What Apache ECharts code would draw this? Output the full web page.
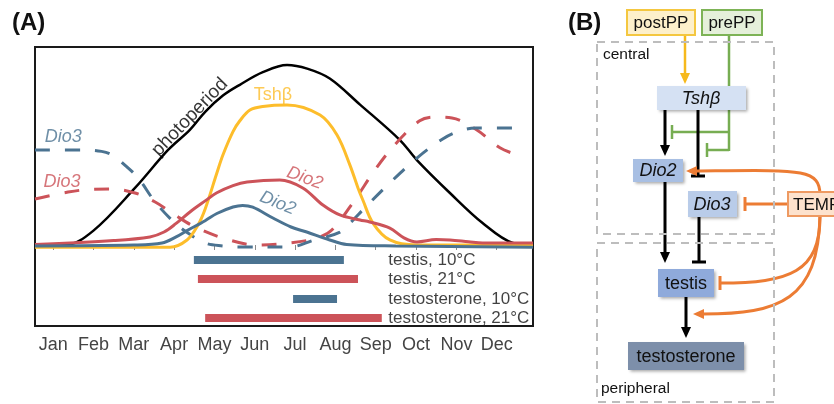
<!DOCTYPE html>
<html>
<head>
<meta charset="utf-8">
<script src="https://cdn.jsdelivr.net/npm/echarts@6/dist/echarts.min.js"></script>
<style>
html, body { margin: 0; padding: 0; background: #fff; }
#chart { width: 834px; height: 404px; }
</style>
</head>
<body>
<div id="chart"></div>
<script>
// months, Jan = 0
const months = ['Jan', 'Feb', 'Mar', 'Apr', 'May', 'Jun', 'Jul', 'Aug', 'Sep', 'Oct', 'Nov', 'Dec'];
const monthTicks = [0, 1, 2, 3, 4, 5, 6, 7, 8, 9, 10, 11];

// relative levels
const photoperiod = [[-0.45, 0], [0.3, 0], [1.0, 0.08], [2.03, 0.317], [2.85, 0.528], [3.39, 0.64], [3.77, 0.74],
  [4.21, 0.83], [4.63, 0.89], [5.2, 0.96], [5.8, 1.0], [6.3, 0.98], [6.86, 0.925], [7.61, 0.78], [8.6, 0.583],
  [9.02, 0.472], [9.84, 0.289], [10.65, 0.122], [11.4, 0.011], [11.9, 0]];
const tshb = [[-0.45, -0.012], [2.9, -0.012], [3.32, 0.028], [3.59, 0.11], [3.77, 0.2], [4.06, 0.4], [4.21, 0.5],
  [4.46, 0.63], [4.63, 0.69], [4.88, 0.75], [5.2, 0.77], [5.8, 0.778], [6.62, 0.722], [7.04, 0.611], [7.36, 0.444],
  [7.56, 0.317], [7.68, 0.25], [7.93, 0.122], [8.35, 0.028], [9.02, 0], [11.9, 0]];
const dio2Warm = [[-0.45, 0.003], [1.5, 0.025], [2.4, 0.045], [2.75, 0.072], [3.05, 0.12], [3.4, 0.185],
  [3.77, 0.245], [4.06, 0.29], [4.46, 0.33], [4.81, 0.35], [5.62, 0.361], [6.19, 0.317], [6.69, 0.222],
  [7.11, 0.167], [7.61, 0.139], [7.85, 0.128], [8.35, 0.094], [8.7, 0.04], [9.02, 0.017], [9.5, 0.03],
  [9.84, 0.028], [10.3, 0.018], [10.65, 0.011], [11.9, 0.011]];
const dio2Cold = [[-0.45, -0.005], [2.0, 0.0], [2.7, 0.011], [3.05, 0.045], [3.32, 0.08], [3.77, 0.135],
  [4.06, 0.175], [4.46, 0.211], [4.7, 0.22], [4.95, 0.21], [5.45, 0.15], [5.9, 0.1], [6.29, 0.072], [6.86, 0.028],
  [7.28, 0.003], [8.5, -0.005], [11.9, -0.012]];
const dio3Cold = [[-0.45, 0.528], [0.79, 0.528], [1.2, 0.52], [1.46, 0.5], [1.8, 0.44], [2.11, 0.372], [2.53, 0.239],
  [3.02, 0.122], [3.34, 0.067], [3.77, 0.011], [4.2, -0.005], [4.63, -0.011], [5.87, -0.011], [6.44, 0.025],
  [7.1, 0.07], [7.4, 0.13], [7.7, 0.2], [8.35, 0.345], [9.02, 0.483], [9.66, 0.589], [10.1, 0.635], [10.48, 0.65],
  [11.52, 0.65]];
const dio3Warm = [[-0.45, 0.256], [0.37, 0.294], [1.0, 0.31], [1.46, 0.311], [2.03, 0.289], [2.53, 0.239],
  [3.02, 0.167], [3.52, 0.1], [4.21, 0.039], [5.05, 0.0], [5.87, 0.011], [6.54, 0.039], [6.91, 0.083], [7.48, 0.25],
  [7.98, 0.417], [8.47, 0.556], [9.09, 0.69], [9.46, 0.711], [9.89, 0.706], [10.5, 0.64], [11.08, 0.54],
  [11.52, 0.5]];

// activity windows (month units)
const windowLabels = ['testis, 10°C', 'testis, 21°C', 'testosterone, 10°C', 'testosterone, 21°C'];
const windowStart = [3.49, 3.59, 5.95, 3.77];
const windowEnd = [7.21, 7.56, 7.04, 8.15];
const windowRow = [-0.083, -0.189, -0.3, -0.406];
const windowTemp = [10, 21, 10, 21];
const windowLabelX = 8.3;

const BLACK = '#000';
const YELLOW = '#fdbd2b';
const RED = '#cc5359';
const BLUE = '#4b7391';
const ORANGE = '#ec7c34';
const GREEN = '#77ad52';
const FONT = '"Liberation Sans", Arial, sans-serif';

const lineSeries = (name, data, color, dashed, width) => ({
  name: name,
  type: 'line',
  data: data,
  smooth: 0.35,
  symbol: 'none',
  silent: true,
  lineStyle: { color: color, width: width || 3, type: dashed ? [15, 15] : 'solid', cap: 'butt' }
});

const windowSeries = windowLabels.map((label, i) => ({
  name: label,
  type: 'line',
  symbol: 'none',
  silent: true,
  data: [[windowStart[i], windowRow[i]], [windowEnd[i], windowRow[i]]],
  lineStyle: { color: windowTemp[i] === 10 ? BLUE : RED, width: 8, cap: 'butt' }
}));

// curve names written next to the lines
const curveNotes = [
  { value: [3.39, 0.71], label: { formatter: 'photoperiod', color: BLACK, rotate: 46, fontSize: 19 } },
  { value: [5.45, 0.833], label: { formatter: 'Tshβ', color: YELLOW, fontSize: 18 } },
  { value: [6.24, 0.372], label: { formatter: 'Dio2', color: RED, rotate: -20, fontStyle: 'italic', fontSize: 18 } },
  { value: [5.57, 0.233], label: { formatter: 'Dio2', color: BLUE, rotate: -22, fontStyle: 'italic', fontSize: 18 } },
  { value: [0.25, 0.6], label: { formatter: 'Dio3', color: BLUE, fontStyle: 'italic', fontSize: 18 } },
  { value: [0.22, 0.35], label: { formatter: 'Dio3', color: RED, fontStyle: 'italic', fontSize: 18 } }
];

// ---- panel B: the diagram, drawn with graphic elements ----
const B = [];
const rect = (x, y, w, h, fill, stroke, dash, shadow) => B.push({
  type: 'rect', shape: { x: x, y: y, width: w, height: h }, z: 10,
  style: {
    fill: fill, stroke: stroke || null, lineWidth: 2, lineDash: dash || null,
    shadowBlur: shadow ? 3 : 0, shadowOffsetX: shadow ? 1.5 : 0, shadowOffsetY: shadow ? 1.5 : 0,
    shadowColor: 'rgba(0,0,0,0.35)'
  }
});
const text = (x, y, s, size, opts) => B.push({
  type: 'text', z: 20,
  style: Object.assign({
    text: s, x: x, y: y, fill: '#111', textAlign: 'center', textVerticalAlign: 'middle',
    font: size + 'px ' + FONT
  }, opts || {})
});
const seg = (x1, y1, x2, y2, color, w) => B.push({
  type: 'line', z: 5, shape: { x1: x1, y1: y1, x2: x2, y2: y2 },
  style: { stroke: color, lineWidth: w || 3 }
});
const curve = (x1, y1, c1x, c1y, c2x, c2y, x2, y2, color) => B.push({
  type: 'bezierCurve', z: 5,
  shape: { x1: x1, y1: y1, cpx1: c1x, cpy1: c1y, cpx2: c2x, cpy2: c2y, x2: x2, y2: y2 },
  style: { stroke: color, lineWidth: 3, fill: 'none' }
});
const headDown = (x, y, color) => B.push({
  type: 'polygon', z: 6, shape: { points: [[x - 5, y - 11], [x + 5, y - 11], [x, y]] }, style: { fill: color }
});
const headLeft = (x, y, color) => B.push({
  type: 'polygon', z: 6, shape: { points: [[x + 11, y - 5], [x + 11, y + 5], [x, y]] }, style: { fill: color }
});

// compartments
rect(597, 42, 177, 192, 'none', '#bdbdbd', [8, 6]);
rect(597, 243, 177, 159, 'none', '#bdbdbd', [8, 6]);
text(603, 55, 'central', 15.5, { textAlign: 'left' });
text(601, 389, 'peripheral', 15.5, { textAlign: 'left' });

// inputs
seg(685, 35, 685, 74, '#f6b91c', 2.5); headDown(685, 84, '#f6b91c');
seg(729, 35, 729, 151, GREEN, 2.5);
seg(729, 132, 672, 132, GREEN, 2.5); seg(672, 125, 672, 139, GREEN, 2.5);
seg(729, 150, 707, 150, GREEN, 2.5); seg(707, 143, 707, 157, GREEN, 2.5);

// central / peripheral cascade
seg(665, 110, 665, 146, BLACK); headDown(665, 156, BLACK);
seg(698, 110, 698, 176, BLACK); seg(691, 176, 705, 176, BLACK);
seg(665, 182, 665, 252, BLACK); headDown(665, 263, BLACK);
seg(699, 217, 699, 262, BLACK); seg(692, 262, 706, 262, BLACK);
seg(686, 297, 686, 327, BLACK); headDown(686, 338, BLACK);

// temperature effects
curve(820, 195, 820, 168, 800, 170, 697, 171, ORANGE); headLeft(686, 171, ORANGE);
seg(788, 204, 745, 204, ORANGE); seg(745, 197, 745, 211, ORANGE);
curve(820, 216, 820, 272, 790, 283, 720, 283, ORANGE); seg(720, 276, 720, 290, ORANGE);
curve(820, 216, 818, 300, 780, 314, 703, 314, ORANGE); headLeft(693, 314, ORANGE);

// boxes
rect(627, 10, 68, 25, '#fdf0cb', '#f4c740');
rect(702, 10, 60, 25, '#e5f0da', '#7db356');
rect(657, 86, 89, 24, '#d5e1f3', null, null, true);
rect(633, 159, 50, 23, '#a8bfe3', null, null, true);
rect(688, 191, 49, 26, '#b9cce9', null, null, true);
rect(658, 269, 56, 28, '#8faadb', null, null, true);
rect(628, 342, 116, 28, '#7d8faa', null, null, true);
rect(788, 192, 60, 24, '#fde2cd', '#ee9a62');

text(661, 23, 'postPP', 17);
text(732, 23, 'prePP', 17);
text(701, 99, 'Tshβ', 18, { font: 'italic 18px ' + FONT });
text(658, 171, 'Dio2', 18, { font: 'italic 18px ' + FONT });
text(712, 205, 'Dio3', 18, { font: 'italic 18px ' + FONT });
text(686, 284, 'testis', 18);
text(686, 357, 'testosterone', 18);
text(793, 205, 'TEMP', 17, { textAlign: 'left' });

text(12, 23, '(A)', 24, { textAlign: 'left', font: 'bold 24px ' + FONT });
text(568, 23, '(B)', 24, { textAlign: 'left', font: 'bold 24px ' + FONT });

const chart = echarts.init(document.getElementById('chart'));
const option = {
  animation: false,
  textStyle: { fontFamily: FONT },
  grid: {
    left: 35, top: 47, right: 301, bottom: 78,
    show: true, borderColor: '#1a1a1a', borderWidth: 2, outerBoundsMode: 'none'
  },
  xAxis: {
    type: 'value', min: -0.45, max: 11.9,
    axisLine: { show: false },
    splitLine: { show: false },
    axisTick: { show: true, customValues: monthTicks, length: 5, lineStyle: { color: '#8a8a8a', width: 1 } },
    axisLabel: {
      customValues: monthTicks, margin: 10, fontSize: 18, color: '#444', fontFamily: FONT,
      formatter: v => months[Math.round(v)]
    }
  },
  yAxis: { type: 'value', min: -0.45, max: 1.1, show: false, splitLine: { show: false } },
  series: [
    lineSeries('photoperiod', photoperiod, BLACK, false, 2.5),
    lineSeries('Dio3 21', dio3Warm, RED, true),
    lineSeries('Dio3 10', dio3Cold, BLUE, true),
    lineSeries('Tshb', tshb, YELLOW, false),
    lineSeries('Dio2 21', dio2Warm, RED, false),
    lineSeries('Dio2 10', dio2Cold, BLUE, false),
    ...windowSeries,
    {
      name: 'window labels', type: 'scatter', silent: true, symbolSize: 1,
      itemStyle: { color: 'transparent' },
      data: windowLabels.map((l, i) => ({ value: [windowLabelX, windowRow[i]], name: l })),
      label: { show: true, position: 'right', distance: 0, formatter: p => p.name, fontSize: 17, color: '#111' }
    },
    {
      name: 'curve notes', type: 'scatter', silent: true, symbolSize: 1,
      itemStyle: { color: 'transparent' },
      data: curveNotes,
      label: { show: true, position: 'inside' }
    }
  ],
  graphic: { elements: B }
};
chart.setOption(option);
</script>
</body>
</html>
